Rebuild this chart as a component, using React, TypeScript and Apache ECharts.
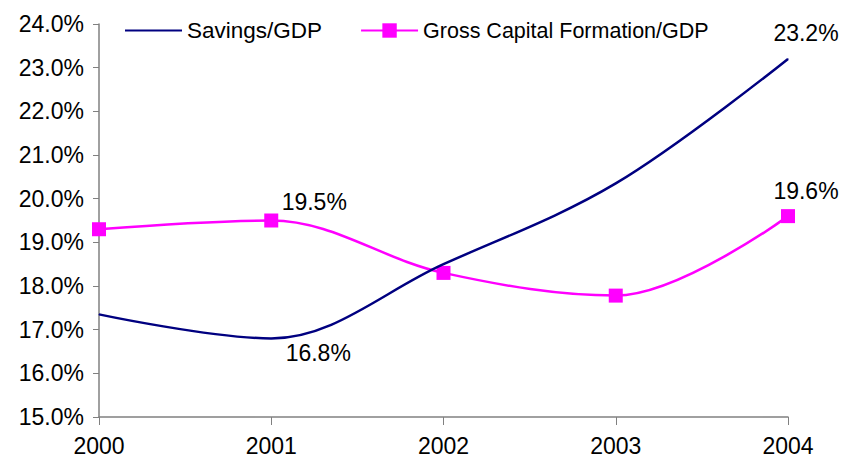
import React, { useEffect, useRef } from "react";
import * as echarts from "echarts";

const years = ["2000", "2001", "2002", "2003", "2004"];
const savings = [17.35, 16.8, 18.5, 20.35, 23.2];
const gcf = [19.3, 19.5, 18.3, 17.78, 19.6];
const savingsLabels: Record<number, [number, number]> = { 1: [47, 15], 4: [18, -26] };
const gcfLabels: Record<number, [number, number]> = { 1: [43, -19], 4: [18, -25] };

const FONT = "'Liberation Sans', Arial, sans-serif";
const FS = 23;

function withLabels(values: number[], labels: Record<number, [number, number]>) {
  return values.map((v, i) =>
    labels[i]
      ? {
          value: v,
          label: {
            show: true,
            position: "inside",
            offset: labels[i],
            formatter: (p: any) => Number(p.value).toFixed(1) + "%",
            color: "#000",
            fontSize: FS,
            fontFamily: FONT,
          },
        }
      : v
  );
}

export default function App() {
  const ref = useRef<HTMLDivElement>(null);
  useEffect(() => {
    document.body.style.margin = "0";
    const chart = echarts.init(ref.current!, null, { renderer: "svg" });
    chart.setOption({
      animation: false,
      backgroundColor: "#fff",
      textStyle: { fontFamily: FONT },
      legend: {
        left: 119,
        top: 14,
        itemGap: 38,
        itemWidth: 57,
        itemHeight: 18,
        textStyle: { fontSize: 22.5, color: "#000", fontFamily: FONT },
        data: [
          { name: "Savings/GDP", itemStyle: { opacity: 0 } },
          { name: "Gross Capital Formation/GDP", textStyle: { fontSize: 21.5 } },
        ],
      },
      grid: { left: 99, right: 72, top: 24, bottom: 52, containLabel: false },
      xAxis: {
        type: "category",
        data: years,
        boundaryGap: false,
        axisLine: { lineStyle: { color: "#808080", width: 1.5 } },
        axisTick: { show: true, length: 8, lineStyle: { color: "#808080" } },
        axisLabel: { fontSize: FS, color: "#000", margin: 17, fontFamily: FONT },
      },
      yAxis: {
        type: "value",
        min: 15,
        max: 24,
        interval: 1,
        axisLine: { show: true, lineStyle: { color: "#808080", width: 1.5 } },
        axisTick: { show: true, length: 6, lineStyle: { color: "#808080" } },
        splitLine: { show: false },
        axisLabel: {
          fontSize: FS,
          color: "#000",
          margin: 15,
          fontFamily: FONT,
          formatter: (v: number) => v.toFixed(1) + "%",
        },
      },
      series: [
        {
          name: "Savings/GDP",
          type: "line",
          smooth: 0.35,
          data: withLabels(savings, savingsLabels),
          symbol: "circle",
          symbolSize: 1,
          showSymbol: true,
          lineStyle: { color: "#000080", width: 2.5 },
          itemStyle: { color: "#000080" },
          z: 3,
        },
        {
          name: "Gross Capital Formation/GDP",
          type: "line",
          smooth: 0.35,
          data: withLabels(gcf, gcfLabels),
          symbol: "rect",
          symbolSize: 14,
          lineStyle: { color: "#FF00FF", width: 2.5 },
          itemStyle: { color: "#FF00FF" },
          z: 2,
        },
      ],
    });
    return () => chart.dispose();
  }, []);
  return <div ref={ref} style={{ width: 860, height: 469 }} />;
}
